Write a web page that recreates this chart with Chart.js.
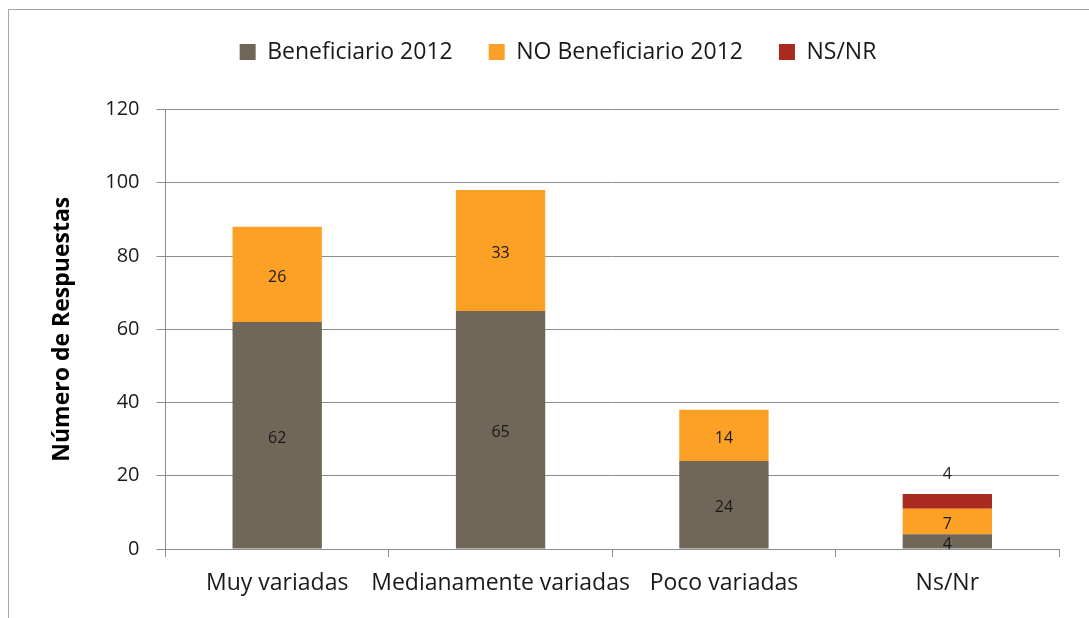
<!DOCTYPE html>
<html>
<head>
<meta charset="utf-8">
<script src="https://cdn.jsdelivr.net/npm/chart.js@4.4.1/dist/chart.umd.min.js"></script>
<style>
  html, body { margin: 0; padding: 0; background: #fff; }
  #wrap { position: relative; width: 1089px; height: 618px; }
  #frame { position: absolute; left: 8px; top: 9px; right: -2px; bottom: -2px;
           border-left: 1px solid #a6a6a6; border-top: 1px solid #a6a6a6; pointer-events: none; }
  canvas { position: absolute; left: 0; top: 0; }
</style>
</head>
<body>
<div id="wrap">
  <canvas id="c" width="1089" height="618"></canvas>
  <div id="frame"></div>
</div>
<script>
const categories = ['Muy variadas', 'Medianamente variadas', 'Poco variadas', 'Ns/Nr'];
const beneficiario = [62, 65, 24, 4];
const noBeneficiario = [26, 33, 14, 7];
const nsnr = [0, 0, 0, 4];
const yTicks = [0, 20, 40, 60, 80, 100, 120];

const FONT = "'Open Sans', 'Lato', sans-serif";

// Legend: extra space below it, and centred over the plot area rather than the canvas
const legendPlacement = {
  id: 'legendPlacement',
  beforeInit(chart) {
    const legend = chart.legend;
    const fit = legend.fit;
    legend.fit = function () {
      fit.call(this);
      this.height += 36;
    };
    const draw = legend.draw;
    legend.draw = function () {
      const ctx = this.ctx;
      ctx.save();
      ctx.translate(23.5, 0);
      draw.apply(this, arguments);
      ctx.restore();
    };
  }
};

// Value labels inside each stacked segment; the NS/NR label sits above its bar
const segmentLabels = {
  id: 'segmentLabels',
  afterDatasetsDraw(chart) {
    const ctx = chart.ctx;
    ctx.save();
    ctx.font = '16px ' + FONT;
    ctx.fillStyle = '#1a1a1a';
    ctx.textAlign = 'center';
    ctx.textBaseline = 'middle';
    chart.data.datasets.forEach((ds, di) => {
      const meta = chart.getDatasetMeta(di);
      meta.data.forEach((bar, i) => {
        const v = ds.data[i];
        if (!v) return;
        let y = (bar.y + bar.base) / 2 + 3;
        if (di === 2) y = bar.y - 20;
        ctx.fillText(String(v), bar.x, y);
      });
    });
    ctx.restore();
  }
};

new Chart(document.getElementById('c'), {
  type: 'bar',
  data: {
    labels: categories,
    datasets: [
      { label: 'Beneficiario 2012', data: beneficiario, backgroundColor: '#706758' },
      { label: 'NO Beneficiario 2012', data: noBeneficiario, backgroundColor: '#fda026' },
      { label: 'NS/NR', data: nsnr, backgroundColor: '#a92b1f' }
    ]
  },
  options: {
    responsive: false,
    animation: false,
    devicePixelRatio: 1,
    layout: { padding: { left: 10, right: 30, top: 4.5, bottom: 0 } },
    datasets: { bar: { categoryPercentage: 1, barPercentage: 0.4, borderWidth: 0 } },
    plugins: {
      tooltip: { enabled: false },
      legend: {
        position: 'top',
        labels: {
          font: { family: FONT, size: 23 },
          color: '#1a1a1a',
          boxWidth: 16,
          boxHeight: 16,
          padding: 36
        }
      }
    },
    scales: {
      x: {
        stacked: true,
        offset: true,
        grid: { display: true, drawOnChartArea: false, offset: true, color: '#8c8c8c', tickLength: 8 },
        border: { display: true, color: '#8c8c8c' },
        ticks: { font: { family: FONT, size: 23 }, color: '#1a1a1a', padding: 13, maxRotation: 0, autoSkip: false },
        afterFit(s) { s.height = 618 - 549; }
      },
      y: {
        stacked: true,
        min: 0,
        max: 120,
        afterBuildTicks(s) { s.ticks = yTicks.map(v => ({ value: v })); },
        grid: { color: '#8c8c8c', tickLength: 9 },
        border: { display: true, color: '#8c8c8c' },
        ticks: { font: { family: FONT, size: 20 }, color: '#1a1a1a', padding: 17 },
        title: {
          display: true,
          text: 'Número de Respuestas',
          font: { family: FONT, size: 23, weight: 'bold' },
          color: '#000',
          padding: { top: 39, bottom: 0 }
        },
        afterFit(s) { s.width = 165.5 - 10; }
      }
    }
  },
  plugins: [legendPlacement, segmentLabels]
});
</script>
</body>
</html>
